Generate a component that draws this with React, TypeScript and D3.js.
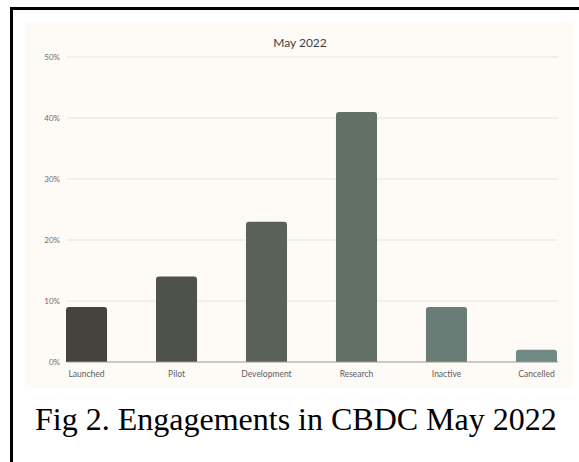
import { useMemo } from "react";
import * as d3 from "d3";

const categories = ["Launched", "Pilot", "Development", "Research", "Inactive", "Cancelled"];
const shares = [9, 14, 23, 41, 9, 2];
const barColors = ["#44443d", "#4f5249", "#5a6157", "#627065", "#697d76", "#718a86"];
const yTicks = [0, 10, 20, 30, 40, 50];
const chartTitle = "May 2022";
const caption = "Fig 2. Engagements in CBDC May 2022";

const width = 579;
const height = 462;
const sans = "Lato, 'Open Sans', sans-serif";

// rect with rounded top corners only
const topRounded = (x: number, y: number, w: number, h: number, r: number) => {
  const rr = Math.min(r, h, w / 2);
  return `M${x},${y + h}V${y + rr}Q${x},${y} ${x + rr},${y}H${x + w - rr}Q${x + w},${y} ${x + w},${y + rr}V${y + h}Z`;
};

const App = () => {
  const { x, y } = useMemo(() => {
    const x = d3
      .scaleBand<string>()
      .domain(categories)
      .range([66, 557])
      .paddingInner(0.544)
      .paddingOuter(0);
    const y = d3.scaleLinear().domain([0, 50]).range([362, 57]);
    return { x, y };
  }, []);

  return (
    <div style={{ position: "fixed", left: 0, top: 0 }}>
      <svg width={width} height={height} style={{ display: "block" }}>
        <rect x={0} y={0} width={width} height={height} fill="#ffffff" />
        <rect x={11.5} y={8.5} width={width + 20} height={height + 20} fill="none" stroke="#000" strokeWidth={3} />
        <rect x={25} y={22} width={548} height={366} fill="#fefaf5" />

        <text x={300} y={47} textAnchor="middle" fontFamily={sans} fontSize={12} fill="#3f3f3f">
          {chartTitle}
        </text>

        {yTicks.map((t) => (
          <g key={t}>
            {t > 0 && (
              <line x1={67} x2={558} y1={y(t)} y2={y(t)} stroke="#e6e3de" strokeWidth={1.2} />
            )}
            <text
              x={60}
              y={y(t)}
              dy="0.35em"
              textAnchor="end"
              fontFamily={sans}
              fontSize={8}
              fill="#6e6e6e"
            >
              {t}%
            </text>
          </g>
        ))}

        {categories.map((c, i) => (
          <path
            key={c}
            d={topRounded(x(c) as number, y(shares[i]), x.bandwidth(), y(0) - y(shares[i]), 3)}
            fill={barColors[i]}
          />
        ))}

        <line x1={67} x2={558} y1={y(0)} y2={y(0)} stroke="#9a9a96" strokeWidth={1} />

        {categories.map((c) => (
          <text
            key={c}
            x={(x(c) as number) + x.bandwidth() / 2}
            y={377}
            textAnchor="middle"
            fontFamily={sans}
            fontSize={8.5}
            fill="#5e5e5e"
          >
            {c}
          </text>
        ))}

        <text x={35} y={430} fontFamily="'Liberation Serif', 'Times New Roman', serif" fontSize={32} fill="#000">
          {caption}
        </text>
      </svg>
    </div>
  );
};

export default App;
